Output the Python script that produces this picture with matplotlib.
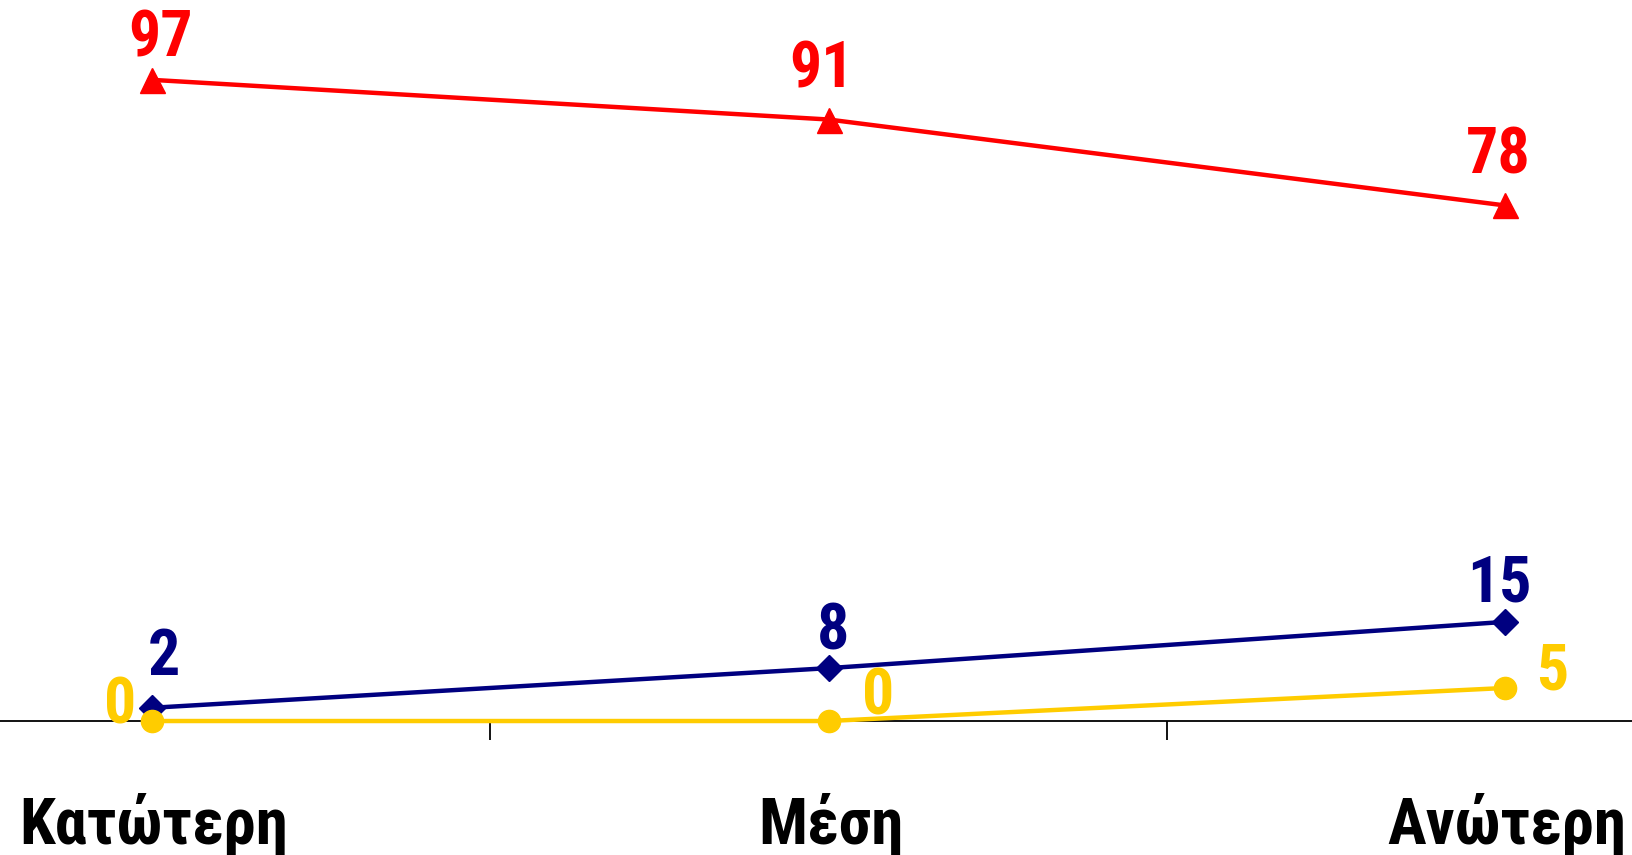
import matplotlib
matplotlib.use("Agg")
import matplotlib.pyplot as plt
from matplotlib import font_manager

categories = ["Κατώτερη", "Μέση", "Ανώτερη"]
series_red = [97, 91, 78]
series_blue = [2, 8, 15]
series_yellow = [0, 0, 5]

RED = "#FF0000"
BLUE = "#000080"
YELLOW = "#FFCC00"

bold_fams = {f.name for f in font_manager.fontManager.ttflist
             if isinstance(f.weight, int) and f.weight >= 700 or f.weight == "bold"}
cands = ["Roboto Condensed", "Fira Sans Condensed", "Open Sans Condensed",
         "Archivo Narrow", "Liberation Sans"]
chosen = [c for c in cands if c in bold_fams][:1] or ["Liberation Sans"]
FAM = chosen + ["Liberation Sans", "DejaVu Sans"]
plt.rcParams["font.family"] = FAM

fig = plt.figure(figsize=(16.32, 8.55), dpi=100)
ax = fig.add_axes([0, 0, 1, 1])
ax.set_xlim(-0.2247, 2.1877)
ax.set_ylim(-20.27, 109.08)

x = list(range(len(categories)))
ax.plot(x, series_red, color=RED, lw=3.2, marker="^", ms=18, zorder=3)
ax.plot(x, series_blue, color=BLUE, lw=3.2, marker="D", ms=13, zorder=4)
ax.plot(x, series_yellow, color=YELLOW, lw=3.2, marker="o", ms=16, zorder=5)

# value labels (offsets in points)
red_off = [(6.5, 16.5), (-5, 22.7), (-5, 23)]
blue_off = [(8.6, 23.8), (3.6, 13.7), (-4.3, 14.4)]
yellow_off = [(-23, -2), (36, 5), (34, -1)]
for vals, offs, col in [(series_red, red_off, RED), (series_blue, blue_off, BLUE),
                        (series_yellow, yellow_off, YELLOW)]:
    for xi, v, (dx, dy) in zip(x, vals, offs):
        ax.annotate(str(v), (xi, v), xytext=(dx, dy), textcoords="offset points",
                    ha="center", va="baseline", color=col, fontsize=46,
                    fontweight="bold", zorder=6)

# axis
for s in ["top", "right", "left"]:
    ax.spines[s].set_visible(False)
ax.spines["bottom"].set_position(("data", 0))
ax.spines["bottom"].set_linewidth(1.3)
ax.spines["bottom"].set_zorder(1)
ax.set_yticks([])
ax.set_xticks([0.5, 1.5])
ax.set_xticklabels([])
ax.tick_params(axis="x", direction="out", length=14, width=1.3, color="black")

for xi, c in zip(x, categories):
    ax.text(xi + 0.003, -18.6, c, ha="center", va="baseline", fontsize=46.5,
            fontweight="bold", color="black")

fig.savefig("out.png", dpi=100)
